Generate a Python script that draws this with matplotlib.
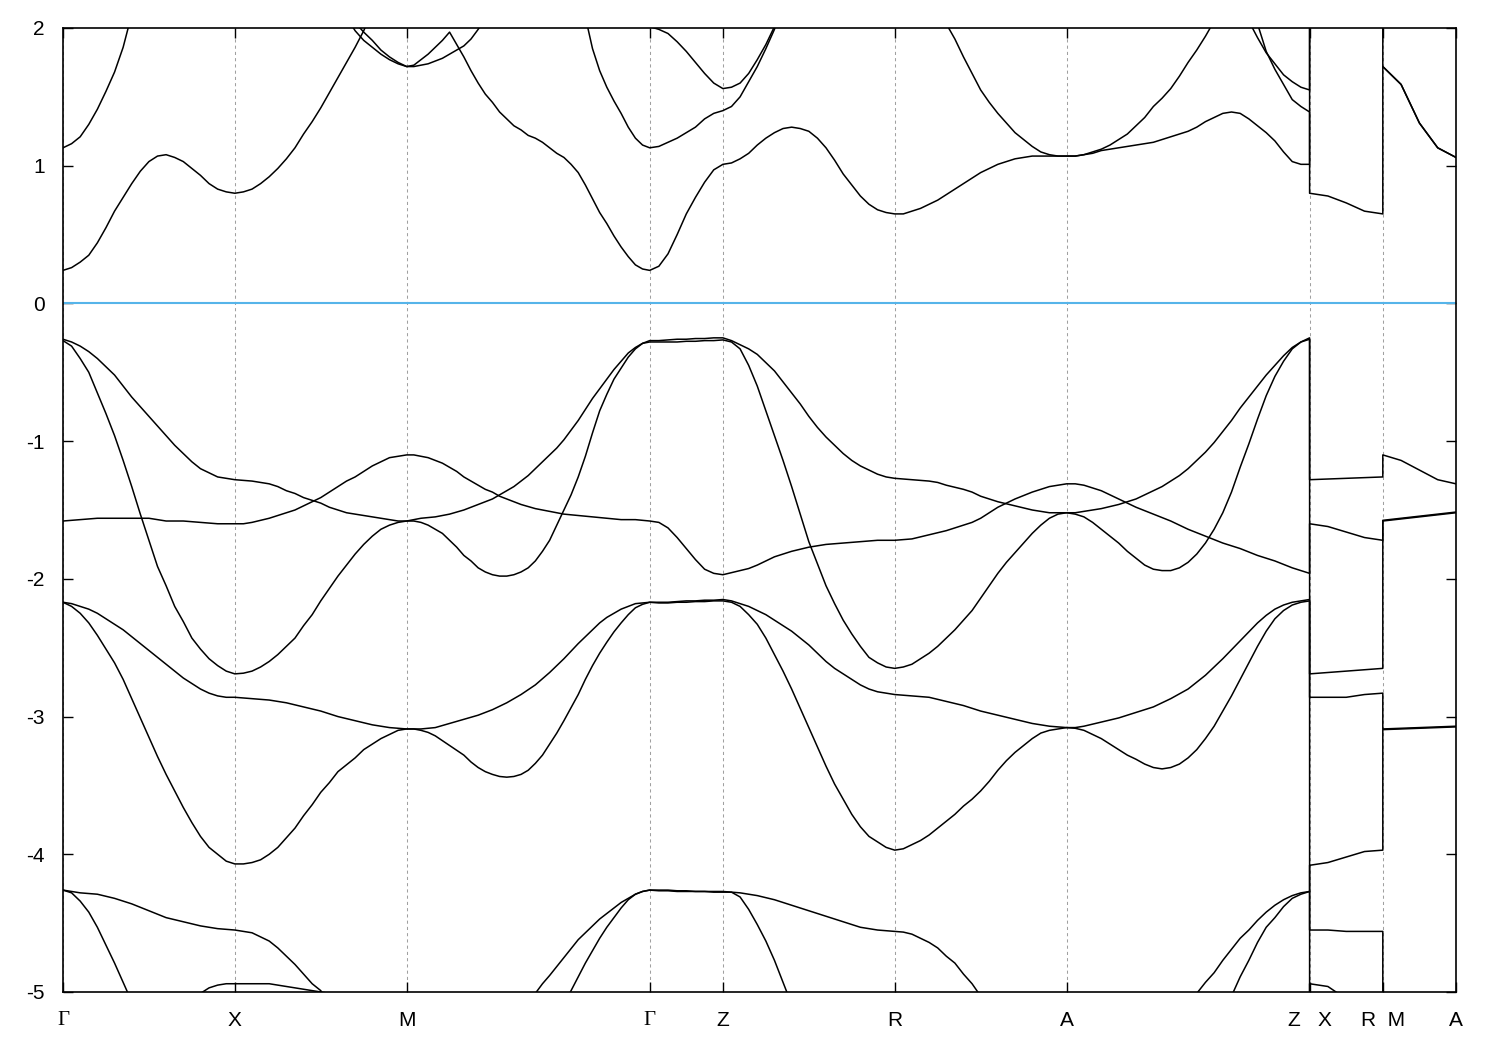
import numpy as np
import matplotlib

matplotlib.use("Agg")
import matplotlib.pyplot as plt

plt.rcParams["font.family"] = ["Liberation Sans", "DejaVu Sans"]
plt.rcParams["axes.unicode_minus"] = False

# --- k-path ---------------------------------------------------------------
kpoint_labels = ["Γ", "X", "M", "Γ", "Z", "R", "A", "Z   X", "R  M", "A"]
kpoint_pos = [0.0, 0.5, 1.0, 1.7071, 1.9201, 2.4201, 2.9201, 3.6272, 3.8402, 4.0532]
segment_steps = [20, 20, 34, 8, 20, 20, 28, 4, 4]
jump_segments = [7, 8]  # X-R and M-A start after a discontinuity

energy_ticks = [-5, -4, -3, -2, -1, 0, 1, 2]
fermi_level = 0.0

# --- bands (eV), one value per k sample, one line per path segment.
# values outside the -5..2 window only keep each line continuous.
cond_1 = ([0.24, 0.26, 0.30, 0.35, 0.44, 0.55, 0.67, 0.77, 0.87, 0.96, 1.03, 1.07, 1.08, 1.06, 1.03, 0.98, 0.93, 0.87, 0.83, 0.81, 0.80]
          + [0.81, 0.83, 0.87, 0.92, 0.98, 1.05, 1.13, 1.23, 1.32, 1.42, 1.53, 1.64, 1.75, 1.86, 1.98, 2.12, 2.35, 2.50, 2.60, 2.70]
          + [2.70, 2.70, 2.75, 2.80, 2.80, 2.80, 2.80, 2.80, 2.80, 2.80, 2.80, 2.80, 2.75, 2.70, 2.70, 2.70, 2.65, 2.60, 2.55, 2.50,
             2.45, 2.40, 2.35, 2.30, 2.08, 1.85, 1.69, 1.57, 1.47, 1.38, 1.28, 1.20, 1.15, 1.13]
          + [1.14, 1.17, 1.20, 1.24, 1.28, 1.34, 1.38, 1.40]
          + [1.43, 1.50, 1.61, 1.72, 1.85, 1.99, 2.20, 2.40, 2.50, 2.60, 2.70, 2.80, 2.85, 2.90, 2.95, 3.00, 3.00, 3.00, 3.00, 3.00]
          + [2.90, 2.80, 2.60, 2.40, 2.20, 2.03, 1.92, 1.79, 1.67, 1.55, 1.46, 1.38, 1.31, 1.24, 1.19, 1.14, 1.10, 1.08, 1.07, 1.07]
          + [1.07, 1.08, 1.10, 1.12, 1.15, 1.19, 1.23, 1.29, 1.35, 1.43, 1.49, 1.56, 1.65, 1.75, 1.84, 1.94, 2.05, 2.15, 2.30, 2.40,
             2.30, 2.03, 1.83, 1.70, 1.59, 1.48, 1.43, 1.39]
          + [0.80, 0.78, 0.73, 0.67, 0.65]
          + [1.72, 1.59, 1.31, 1.13, 1.06])
cond_2 = ([1.13, 1.16, 1.21, 1.30, 1.41, 1.54, 1.68, 1.86, 2.10, 2.30, 2.40, 2.50, 2.60, 2.65, 2.70, 2.75, 2.80, 2.80, 2.80, 2.80, 2.80]
          + [2.80, 2.80, 2.80, 2.80, 2.75, 2.70, 2.65, 2.60, 2.50, 2.45, 2.30, 2.20, 2.08, 1.98, 1.91, 1.86, 1.81, 1.77, 1.74, 1.72]
          + [1.73, 1.77, 1.81, 1.86, 1.91, 1.97, 1.88, 1.79, 1.69, 1.60, 1.52, 1.46, 1.39, 1.34, 1.29, 1.26, 1.22, 1.20, 1.17, 1.13,
             1.09, 1.06, 1.01, 0.95, 0.86, 0.76, 0.66, 0.58, 0.49, 0.41, 0.34, 0.28, 0.25, 0.24]
          + [0.27, 0.36, 0.50, 0.65, 0.77, 0.88, 0.97, 1.01]
          + [1.02, 1.05, 1.09, 1.15, 1.20, 1.24, 1.27, 1.28, 1.27, 1.25, 1.20, 1.13, 1.04, 0.94, 0.86, 0.78, 0.72, 0.68, 0.66, 0.65]
          + [0.65, 0.67, 0.69, 0.72, 0.75, 0.79, 0.83, 0.87, 0.91, 0.95, 0.98, 1.01, 1.03, 1.05, 1.06, 1.07, 1.07, 1.07, 1.07, 1.07]
          + [1.07, 1.08, 1.09, 1.11, 1.12, 1.13, 1.14, 1.15, 1.16, 1.17, 1.19, 1.21, 1.23, 1.25, 1.28, 1.32, 1.35, 1.38, 1.39, 1.38,
             1.34, 1.29, 1.24, 1.18, 1.10, 1.03, 1.01, 1.01]
          + [2.80] * 5
          + [1.72, 1.59, 1.31, 1.13, 1.06])
cond_3 = ([2.01, 2.10, 2.20, 2.30, 2.40, 2.50, 2.60, 2.70, 2.80, 2.90, 3.00] + [3.00] * 10
          + [3.00, 3.00, 3.00, 3.00, 3.00, 3.00, 2.95, 2.90, 2.80, 2.70, 2.50, 2.30, 2.15, 2.04, 1.97, 1.91, 1.84, 1.79, 1.75, 1.72]
          + [1.72, 1.73, 1.74, 1.76, 1.78, 1.81, 1.84, 1.87, 1.92, 1.99, 2.07, 2.15, 2.22, 2.30, 2.35, 2.40, 2.45, 2.50, 2.50, 2.50,
             2.50, 2.50, 2.50, 2.50, 2.48, 2.45, 2.42, 2.40, 2.35, 2.30, 2.22, 2.15, 2.08, 2.01]
          + [1.99, 1.96, 1.90, 1.83, 1.75, 1.67, 1.60, 1.56]
          + [1.57, 1.60, 1.67, 1.77, 1.88, 2.01, 2.20, 2.40, 2.60, 2.80, 2.90] + [3.00] * 9
          + [3.00] * 19 + [2.80]
          + [2.80] * 18 + [2.50, 2.30, 2.05, 1.93, 1.82, 1.74, 1.66, 1.61, 1.57, 1.55]
          + [3.00] * 5
          + [3.00] * 5)

val_1 = ([-0.26, -0.28, -0.31, -0.35, -0.40, -0.46, -0.52, -0.60, -0.68, -0.75, -0.82, -0.89, -0.96, -1.03, -1.09, -1.15, -1.20, -1.23, -1.26, -1.27, -1.28]
         + [-1.285, -1.29, -1.30, -1.31, -1.33, -1.36, -1.38, -1.41, -1.43, -1.45, -1.48, -1.50, -1.52, -1.53, -1.54, -1.55, -1.56, -1.57, -1.58, -1.58]
         + [-1.57, -1.56, -1.555, -1.55, -1.54, -1.53, -1.515, -1.50, -1.48, -1.46, -1.44, -1.42, -1.39, -1.36, -1.33, -1.29, -1.25,
            -1.20, -1.15, -1.10, -1.05, -0.99, -0.92, -0.85, -0.77, -0.69, -0.62, -0.55, -0.48, -0.42, -0.36, -0.32, -0.29, -0.27]
         + [-0.27, -0.265, -0.26, -0.26, -0.255, -0.255, -0.25, -0.25]
         + [-0.27, -0.30, -0.33, -0.37, -0.43, -0.49, -0.57, -0.65, -0.73, -0.82, -0.90, -0.97, -1.03, -1.09, -1.14, -1.18, -1.21, -1.24, -1.26, -1.27]
         + [-1.275, -1.28, -1.285, -1.29, -1.30, -1.32, -1.335, -1.35, -1.37, -1.40, -1.42, -1.44, -1.455, -1.47, -1.485, -1.50, -1.51, -1.52, -1.52, -1.52]
         + [-1.52, -1.51, -1.50, -1.49, -1.475, -1.46, -1.44, -1.42, -1.39, -1.36, -1.33, -1.29, -1.25, -1.20, -1.14, -1.08, -1.01,
            -0.93, -0.85, -0.76, -0.68, -0.60, -0.52, -0.45, -0.38, -0.32, -0.28, -0.25]
         + [-1.28, -1.275, -1.27, -1.265, -1.26]
         + [-1.10, -1.14, -1.21, -1.28, -1.31])
val_2 = ([-0.27, -0.31, -0.40, -0.50, -0.65, -0.80, -0.96, -1.14, -1.33, -1.53, -1.72, -1.91, -2.05, -2.20, -2.31, -2.43, -2.51, -2.58, -2.63, -2.67, -2.69]
         + [-2.685, -2.67, -2.64, -2.60, -2.55, -2.49, -2.43, -2.34, -2.26, -2.16, -2.07, -1.98, -1.90, -1.82, -1.75, -1.69, -1.64, -1.61, -1.59, -1.58]
         + [-1.58, -1.59, -1.61, -1.64, -1.67, -1.72, -1.77, -1.83, -1.87, -1.92, -1.95, -1.97, -1.98, -1.98, -1.97, -1.95, -1.92,
            -1.87, -1.80, -1.72, -1.61, -1.50, -1.39, -1.26, -1.11, -0.94, -0.78, -0.66, -0.55, -0.47, -0.39, -0.33, -0.29, -0.28]
         + [-0.28, -0.28, -0.28, -0.275, -0.275, -0.27, -0.27, -0.265]
         + [-0.28, -0.33, -0.45, -0.60, -0.78, -0.96, -1.14, -1.33, -1.53, -1.73, -1.89, -2.05, -2.18, -2.30, -2.40, -2.49, -2.57, -2.61, -2.64, -2.65]
         + [-2.64, -2.62, -2.58, -2.54, -2.49, -2.43, -2.37, -2.30, -2.23, -2.14, -2.05, -1.96, -1.88, -1.81, -1.74, -1.67, -1.61, -1.56, -1.53, -1.52]
         + [-1.53, -1.55, -1.59, -1.64, -1.69, -1.74, -1.80, -1.85, -1.90, -1.93, -1.94, -1.94, -1.92, -1.88, -1.82, -1.74, -1.64,
            -1.52, -1.37, -1.19, -1.02, -0.84, -0.67, -0.53, -0.42, -0.33, -0.28, -0.26]
         + [-2.69, -2.68, -2.67, -2.66, -2.65]
         + [-1.575, -1.56, -1.545, -1.53, -1.515])
val_3 = ([-1.58, -1.575, -1.57, -1.565, -1.56, -1.56, -1.56, -1.56, -1.56, -1.56, -1.56, -1.57, -1.58, -1.58, -1.58, -1.585, -1.59, -1.595, -1.60, -1.60, -1.60]
         + [-1.60, -1.59, -1.575, -1.56, -1.54, -1.52, -1.50, -1.47, -1.44, -1.41, -1.37, -1.33, -1.29, -1.26, -1.22, -1.18, -1.15, -1.12, -1.11, -1.10]
         + [-1.10, -1.11, -1.12, -1.14, -1.16, -1.19, -1.22, -1.26, -1.29, -1.32, -1.35, -1.37, -1.40, -1.42, -1.44, -1.46, -1.475,
            -1.49, -1.50, -1.51, -1.52, -1.53, -1.535, -1.54, -1.545, -1.55, -1.555, -1.56, -1.565, -1.57, -1.57, -1.57, -1.575, -1.58]
         + [-1.59, -1.63, -1.70, -1.78, -1.86, -1.93, -1.96, -1.97]
         + [-1.955, -1.94, -1.925, -1.90, -1.87, -1.84, -1.82, -1.80, -1.785, -1.77, -1.76, -1.75, -1.745, -1.74, -1.735, -1.73, -1.725, -1.72, -1.72, -1.72]
         + [-1.715, -1.71, -1.695, -1.68, -1.665, -1.65, -1.63, -1.61, -1.59, -1.56, -1.52, -1.48, -1.45, -1.42, -1.395, -1.37, -1.35, -1.33, -1.32, -1.31]
         + [-1.31, -1.32, -1.34, -1.36, -1.39, -1.42, -1.45, -1.48, -1.505, -1.53, -1.555, -1.58, -1.61, -1.64, -1.665, -1.69, -1.715,
            -1.74, -1.76, -1.78, -1.805, -1.83, -1.85, -1.87, -1.895, -1.92, -1.94, -1.96]
         + [-1.60, -1.62, -1.66, -1.70, -1.72]
         + [-1.58, -1.565, -1.55, -1.535, -1.52])
val_4 = ([-2.17, -2.18, -2.20, -2.22, -2.25, -2.29, -2.33, -2.37, -2.42, -2.47, -2.52, -2.57, -2.62, -2.67, -2.72, -2.76, -2.80, -2.83, -2.85, -2.86, -2.86]
         + [-2.865, -2.87, -2.875, -2.88, -2.89, -2.90, -2.915, -2.93, -2.945, -2.96, -2.98, -3.00, -3.015, -3.03, -3.045, -3.06, -3.07, -3.08, -3.085, -3.09]
         + [-3.09, -3.09, -3.085, -3.08, -3.065, -3.05, -3.035, -3.02, -3.005, -2.99, -2.97, -2.95, -2.925, -2.90, -2.87, -2.84, -2.805,
            -2.77, -2.725, -2.68, -2.63, -2.58, -2.525, -2.47, -2.42, -2.37, -2.32, -2.28, -2.25, -2.22, -2.20, -2.18, -2.175, -2.17]
         + [-2.17, -2.17, -2.165, -2.16, -2.16, -2.155, -2.155, -2.15]
         + [-2.16, -2.18, -2.20, -2.23, -2.26, -2.30, -2.34, -2.38, -2.43, -2.48, -2.54, -2.60, -2.65, -2.69, -2.73, -2.77, -2.80, -2.82, -2.83, -2.84]
         + [-2.845, -2.85, -2.855, -2.86, -2.875, -2.89, -2.905, -2.92, -2.94, -2.96, -2.975, -2.99, -3.005, -3.02, -3.035, -3.05, -3.06, -3.07, -3.075, -3.08]
         + [-3.08, -3.07, -3.055, -3.04, -3.025, -3.01, -2.99, -2.97, -2.95, -2.93, -2.90, -2.87, -2.835, -2.80, -2.75, -2.70, -2.64,
            -2.58, -2.515, -2.45, -2.385, -2.32, -2.265, -2.22, -2.19, -2.17, -2.16, -2.15]
         + [-2.86, -2.86, -2.86, -2.84, -2.83]
         + [-3.09, -3.085, -3.08, -3.075, -3.07])
val_5 = ([-2.17, -2.20, -2.25, -2.32, -2.41, -2.51, -2.61, -2.73, -2.87, -3.01, -3.15, -3.29, -3.42, -3.54, -3.66, -3.77, -3.87, -3.95, -4.00, -4.05, -4.07]
         + [-4.07, -4.06, -4.04, -4.00, -3.95, -3.88, -3.81, -3.72, -3.64, -3.55, -3.48, -3.40, -3.35, -3.30, -3.24, -3.20, -3.16, -3.13, -3.10, -3.09]
         + [-3.09, -3.10, -3.115, -3.14, -3.175, -3.21, -3.245, -3.28, -3.33, -3.37, -3.40, -3.42, -3.435, -3.44, -3.435, -3.42, -3.39,
            -3.34, -3.28, -3.20, -3.12, -3.03, -2.935, -2.84, -2.73, -2.63, -2.54, -2.46, -2.385, -2.32, -2.26, -2.21, -2.185, -2.17]
         + [-2.175, -2.175, -2.17, -2.17, -2.165, -2.165, -2.16, -2.16]
         + [-2.17, -2.20, -2.26, -2.33, -2.43, -2.55, -2.67, -2.80, -2.94, -3.08, -3.22, -3.36, -3.49, -3.60, -3.71, -3.80, -3.87, -3.91, -3.95, -3.97]
         + [-3.96, -3.93, -3.90, -3.86, -3.81, -3.76, -3.71, -3.65, -3.60, -3.54, -3.47, -3.39, -3.32, -3.26, -3.21, -3.16, -3.12, -3.10, -3.09, -3.08]
         + [-3.085, -3.10, -3.13, -3.16, -3.20, -3.24, -3.28, -3.31, -3.345, -3.37, -3.38, -3.37, -3.345, -3.30, -3.24, -3.16, -3.07,
            -2.96, -2.85, -2.73, -2.61, -2.49, -2.38, -2.29, -2.23, -2.19, -2.17, -2.16]
         + [-4.55, -4.55, -4.56, -4.56, -4.56]
         + [-5.50] * 5)
val_6 = ([-4.26, -4.27, -4.28, -4.285, -4.29, -4.305, -4.32, -4.34, -4.36, -4.385, -4.41, -4.435, -4.46, -4.475, -4.49, -4.505, -4.52, -4.53, -4.54, -4.545, -4.55]
         + [-4.56, -4.57, -4.60, -4.63, -4.68, -4.74, -4.80, -4.87, -4.94, -4.99, -5.10, -5.20, -5.30, -5.40, -5.45, -5.50, -5.50, -5.50, -5.50, -5.50]
         + [-5.50] * 14 + [-5.35, -5.20, -5.10, -5.01, -4.94, -4.88, -4.815, -4.75, -4.685, -4.62, -4.57, -4.52, -4.47, -4.43,
                           -4.39, -4.35, -4.32, -4.29, -4.27, -4.26]
         + [-4.26, -4.26, -4.265, -4.265, -4.27, -4.27, -4.27, -4.27]
         + [-4.275, -4.28, -4.29, -4.30, -4.315, -4.33, -4.35, -4.37, -4.39, -4.41, -4.43, -4.45, -4.47, -4.49, -4.51, -4.53, -4.54, -4.55, -4.555, -4.56]
         + [-4.565, -4.58, -4.61, -4.64, -4.68, -4.74, -4.79, -4.87, -4.94, -5.03, -5.12, -5.20, -5.30, -5.40, -5.45, -5.50, -5.50, -5.50, -5.50, -5.50]
         + [-5.50] * 12 + [-5.30, -5.15, -5.01, -4.93, -4.86, -4.77, -4.69, -4.61, -4.55, -4.48, -4.42, -4.37, -4.33, -4.30, -4.28, -4.27]
         + [-4.08, -4.06, -4.02, -3.98, -3.97]
         + [-3.095, -3.09, -3.085, -3.08, -3.075])
val_7 = ([-4.26, -4.28, -4.34, -4.42, -4.53, -4.66, -4.79, -4.93, -5.07, -5.20, -5.30, -5.35, -5.30, -5.25, -5.15, -5.08, -5.01, -4.97, -4.95, -4.94, -4.94]
         + [-4.94, -4.94, -4.94, -4.94, -4.95, -4.96, -4.97, -4.98, -4.99, -5.00, -5.01, -5.03, -5.10, -5.20, -5.30, -5.40, -5.45, -5.50, -5.50, -5.50]
         + [-5.50] * 19 + [-5.30, -5.20, -5.09, -4.99, -4.89, -4.79, -4.70, -4.61, -4.53, -4.46, -4.39, -4.33, -4.29, -4.27, -4.26]
         + [-4.265, -4.265, -4.27, -4.27, -4.27, -4.27, -4.275, -4.275]
         + [-4.275, -4.31, -4.40, -4.51, -4.63, -4.77, -4.93, -5.09, -5.25, -5.35] + [-5.50] * 10
         + [-5.50] * 20
         + [-5.50] * 17 + [-5.20, -5.03, -4.89, -4.77, -4.64, -4.53, -4.46, -4.38, -4.32, -4.29, -4.27]
         + [-5.40] * 5
         + [-5.50] * 5)
val_8 = [-5.60] * 151 + [-4.94, -4.96, -5.05, -5.20, -5.30] + [-5.60] * 5

bands = [cond_1, cond_2, cond_3, val_1, val_2, val_3, val_4, val_5, val_6, val_7, val_8]

# k samples along the path (discontinuous segments repeat their start point)
k = [kpoint_pos[0]]
for i, n in enumerate(segment_steps):
    pts = np.linspace(kpoint_pos[i], kpoint_pos[i + 1], n + 1)
    k.extend(pts if i in jump_segments else pts[1:])
k = np.array(k)

fig = plt.figure(figsize=(15, 10.5), dpi=100)
ax = fig.add_axes([0.042, 0.05524, 0.92867, 0.91810])

for band in bands:
    assert len(band) == len(k), len(band)
    ax.plot(k, band, color="black", lw=1.1, zorder=3)

ax.axhline(fermi_level, color="#56b4e9", lw=1.5, zorder=2)

ax.set_xlim(kpoint_pos[0], kpoint_pos[-1])
ax.set_ylim(-5, 2)
ax.set_xticks(kpoint_pos)
ax.set_xticklabels(kpoint_labels)
ax.set_yticks(energy_ticks)
ax.set_yticklabels([str(v) for v in energy_ticks])

ax.xaxis.grid(True, color="#a0a0a0", lw=0.75, linestyle=(0, (3, 3)))
ax.tick_params(axis="both", direction="in", length=7, width=1.0,
               top=True, right=True, labelsize=15)
ax.tick_params(axis="y", pad=13)
ax.tick_params(axis="x", pad=14)
for lab in ax.get_xticklabels():
    if lab.get_text() == "Γ":
        lab.set_family(["Liberation Serif", "DejaVu Serif"])
for sp in ax.spines.values():
    sp.set_linewidth(1.2)
    sp.set_zorder(4)

fig.savefig("out.png", dpi=100)
